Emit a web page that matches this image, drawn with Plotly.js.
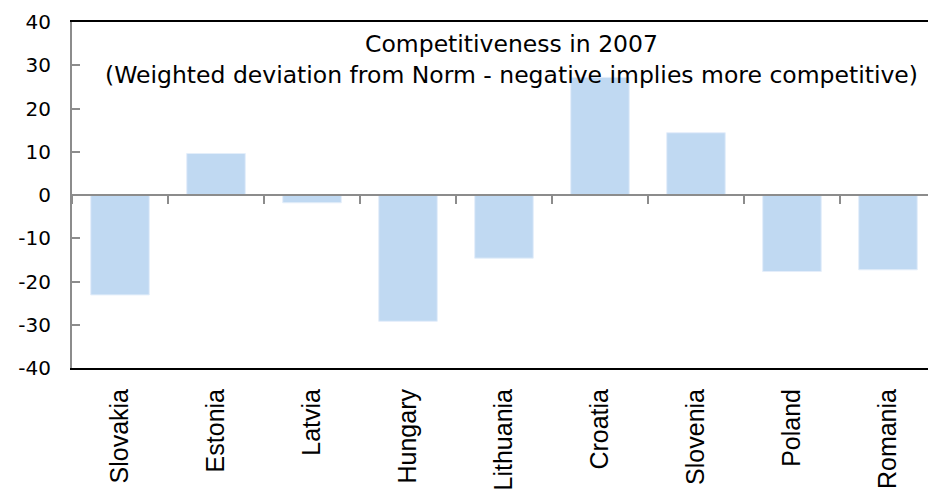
<!DOCTYPE html>
<html>
<head>
<meta charset="utf-8">
<script src="https://cdn.plot.ly/plotly-3.0.1.min.js"></script>
<style>html,body{margin:0;padding:0;background:#fff;} #chart{width:928px;height:492px;}</style>
</head>
<body>
<div id="chart"></div>
<script>
const countries = ["Slovakia","Estonia","Latvia","Hungary","Lithuania","Croatia","Slovenia","Poland","Romania"];
const deviation = [-23.1, 9.6, -1.8, -29.2, -14.6, 27.2, 14.4, -17.7, -17.3];
const yTicks = [-40, -30, -20, -10, 0, 10, 20, 30, 40];
const titleLine1 = "Competitiveness in 2007";
const titleLine2 = "(Weighted deviation from Norm - negative implies more competitive)";

const grey = "#8c8c8c";
const xRange = [-0.5, 8.417];
const armo = "Arial, 'Liberation Sans', sans-serif";
const wide = "'DejaVu Sans', sans-serif";

const traces = [
  {
    type: "bar",
    x: countries,
    y: deviation,
    width: 0.61,
    marker: {color: "#c0d9f2", line: {color: "#e4eefa", width: 1}},
    hoverinfo: "x+y",
    showlegend: false
  },
  {
    type: "scatter",
    mode: "none",
    x: countries,
    y: deviation,
    xaxis: "x2",
    yaxis: "y",
    hoverinfo: "skip",
    showlegend: false
  }
];

const layout = {
  width: 928,
  height: 492,
  margin: {l: 72, r: 0, t: 22, b: 124},
  paper_bgcolor: "#ffffff",
  plot_bgcolor: "#ffffff",
  font: {family: armo, color: "#000"},
  xaxis: {
    type: "category",
    range: xRange,
    showline: true,
    linecolor: "#000",
    linewidth: 2,
    mirror: true,
    ticks: "",
    tickangle: -90,
    ticklabelstandoff: 9,
    tickfont: {size: 25, family: armo},
    showgrid: false,
    zeroline: false,
    fixedrange: true
  },
  xaxis2: {
    type: "category",
    overlaying: "x",
    anchor: "free",
    position: 0.5,
    range: xRange,
    showline: true,
    linecolor: grey,
    linewidth: 2,
    ticks: "outside",
    tickson: "boundaries",
    ticklen: 8,
    tickwidth: 2,
    tickcolor: grey,
    showticklabels: false,
    showgrid: false,
    zeroline: false
  },
  yaxis: {
    range: [-40, 40],
    tickvals: yTicks,
    ticktext: yTicks.map(String),
    showline: true,
    linecolor: grey,
    linewidth: 2,
    ticks: "inside",
    ticklen: 8,
    tickwidth: 2,
    tickcolor: grey,
    ticklabelstandoff: 15,
    tickfont: {size: 20, family: wide},
    showgrid: false,
    zeroline: false,
    fixedrange: true
  },
  annotations: [
    {
      text: titleLine1 + "<br>" + titleLine2,
      xref: "paper", yref: "paper",
      x: 0.513, y: 1, yshift: -6,
      xanchor: "center", yanchor: "top",
      align: "center",
      showarrow: false,
      font: {size: 23.5, family: wide, color: "#000"}
    }
  ]
};

Plotly.newPlot("chart", traces, layout, {displayModeBar: false, staticPlot: true});
</script>
</body>
</html>
